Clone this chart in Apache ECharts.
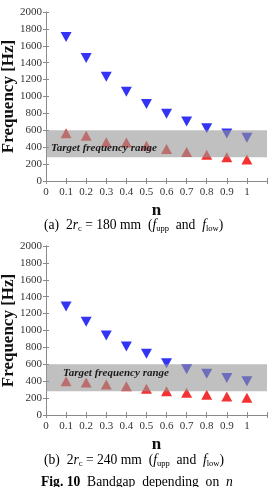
<!DOCTYPE html>
<html>
<head>
<meta charset="utf-8">
<script src="https://cdn.jsdelivr.net/npm/echarts@6/dist/echarts.min.js"></script>
<style>
  html, body { margin: 0; padding: 0; background: #fff; }
  #chart { width: 273px; height: 487px; }
</style>
</head>
<body>
<div id="chart"></div>
<script>
// n values (x)
var nValues = [0.1, 0.2, 0.3, 0.4, 0.5, 0.6, 0.7, 0.8, 0.9, 1.0];
// (a) 2rc = 180 mm
var uppA = [1705, 1455, 1235, 1055, 912, 795, 703, 625, 562, 512];
var lowA = [565, 535, 458, 455, 418, 378, 342, 312, 282, 255];
// (b) 2rc = 240 mm
var uppB = [1285, 1105, 942, 810, 725, 612, 540, 488, 438, 398];
var lowB = [398, 385, 362, 340, 310, 282, 262, 240, 220, 205];
// target frequency band [Hz]
var bandRange = [280, 600];
var bandText = 'Target frequency range';

var serif = 'Liberation Serif';
var labelSize = 11;
var axisGray = '#8a8a8a';

function pts(ys) {
  return nValues.map(function (n, i) { return [n, ys[i]]; });
}

function mainX(gi) {
  return {
    type: 'value', gridIndex: gi, min: 0, max: 1.1, interval: 0.1,
    name: 'n', nameLocation: 'middle', nameGap: 21, nameMoveOverlap: false,
    nameTextStyle: { fontFamily: serif, fontWeight: 'bold', fontSize: 17, color: '#111' },
    axisLine: { lineStyle: { color: axisGray } },
    axisTick: { inside: true, length: 3, lineStyle: { color: axisGray } },
    splitLine: { show: false },
    axisLabel: {
      fontFamily: serif, fontSize: labelSize, color: '#333', margin: 6,
      formatter: function (v) {
        if (v > 1.05) return '';
        return Math.abs(v - 1) < 1e-6 ? '1' : (v === 0 ? '0' : v.toFixed(1));
      }
    }
  };
}
function topX(gi) {
  return {
    type: 'value', gridIndex: gi, position: 'top', min: 0, max: 1.1, interval: 0.1,
    axisLine: { show: true, lineStyle: { color: axisGray } },
    axisTick: { inside: true, length: 3, lineStyle: { color: axisGray } },
    axisLabel: { show: false }, splitLine: { show: false }
  };
}
function mainY(gi) {
  return {
    type: 'value', gridIndex: gi, min: 0, max: 2000, interval: 200,
    name: 'Frequency [Hz]', nameLocation: 'middle', nameGap: 29, nameMoveOverlap: false,
    nameTextStyle: { fontFamily: serif, fontWeight: 'bold', fontSize: 17, color: '#111' },
    axisLine: { show: true, lineStyle: { color: axisGray } },
    axisTick: { show: true, inside: true, length: 3, lineStyle: { color: axisGray } },
    splitLine: { show: false },
    axisLabel: {
      fontFamily: serif, fontSize: labelSize, color: '#333', margin: 4,
      formatter: function (v) { return String(v); }
    }
  };
}
function rightY(gi) {
  return {
    type: 'value', gridIndex: gi, position: 'right', min: 0, max: 2000, interval: 200,
    axisLine: { show: true, lineStyle: { color: axisGray } },
    axisTick: { show: true, inside: true, length: 3, lineStyle: { color: axisGray } },
    axisLabel: { show: false }, splitLine: { show: false }
  };
}

function uppSeries(ax, data) {
  return {
    type: 'scatter', xAxisIndex: ax, yAxisIndex: ax, data: pts(data),
    symbol: 'triangle', symbolRotate: 180, symbolSize: [11, 10], z: 2,
    itemStyle: { color: '#0000f0' }
  };
}
function lowSeries(ax, data) {
  return {
    type: 'scatter', xAxisIndex: ax, yAxisIndex: ax, data: pts(data),
    symbol: 'triangle', symbolSize: [11, 10], z: 2,
    itemStyle: { color: '#f00000' }
  };
}
function bandSeries(ax, pos, offset) {
  return {
    type: 'line', xAxisIndex: ax, yAxisIndex: ax, data: [], z: 5,
    markArea: {
      silent: true, z: 10,
      itemStyle: { color: 'rgba(150,150,150,0.6)' },
      label: {
        show: true, position: pos, offset: offset,
        fontFamily: serif, fontStyle: 'italic', fontWeight: 'bold',
        fontSize: 11, color: '#1a1a1a'
      },
      data: [[{ name: bandText, yAxis: bandRange[0] }, { yAxis: bandRange[1] }]]
    }
  };
}

var capRich = {
  n: { fontFamily: serif, fontSize: 13.6, color: '#111' },
  i: { fontFamily: serif, fontSize: 13.6, fontStyle: 'italic', color: '#111' },
  sub: { fontFamily: serif, fontSize: 8.5, color: '#111', padding: [7, 0, 0, 0] },
  b: { fontFamily: serif, fontSize: 13.6, fontWeight: 'bold', color: '#111' }
};

var chart = echarts.init(document.getElementById('chart'), null, { renderer: 'canvas' });
chart.setOption({
  backgroundColor: '#fff',
  animation: false,
  grid: [
    { left: 46, right: 6, top: 12, height: 169, containLabel: false, outerBoundsMode: 'none' },
    { left: 46, right: 6, top: 246, height: 169, containLabel: false, outerBoundsMode: 'none' }
  ],
  xAxis: [mainX(0), mainX(1), topX(0), topX(1)],
  yAxis: [mainY(0), mainY(1), rightY(0), rightY(1)],
  series: [
    uppSeries(0, uppA), lowSeries(0, lowA), bandSeries(0, 'insideBottomLeft', [0, 1]),
    uppSeries(1, uppB), lowSeries(1, lowB), bandSeries(1, 'insideTopLeft', [12, -2])
  ],
  graphic: [
    {
      type: 'text', left: 44, top: 218,
      style: {
        text: '{n|(a)  2}{i|r}{sub|c}{n| = 180 mm  (}{i|f}{sub|upp}{n|  and  }{i|f}{sub|low}{n|)}',
        rich: capRich
      }
    },
    {
      type: 'text', left: 44, top: 453,
      style: {
        text: '{n|(b)  2}{i|r}{sub|c}{n| = 240 mm  (}{i|f}{sub|upp}{n|  and  }{i|f}{sub|low}{n|)}',
        rich: capRich
      }
    },
    {
      type: 'text', left: 41, top: 475,
      style: {
        text: '{b|Fig. 10}{n|  Bandgap  depending  on  }{i|n}',
        rich: capRich
      }
    }
  ]
});
</script>
</body>
</html>
